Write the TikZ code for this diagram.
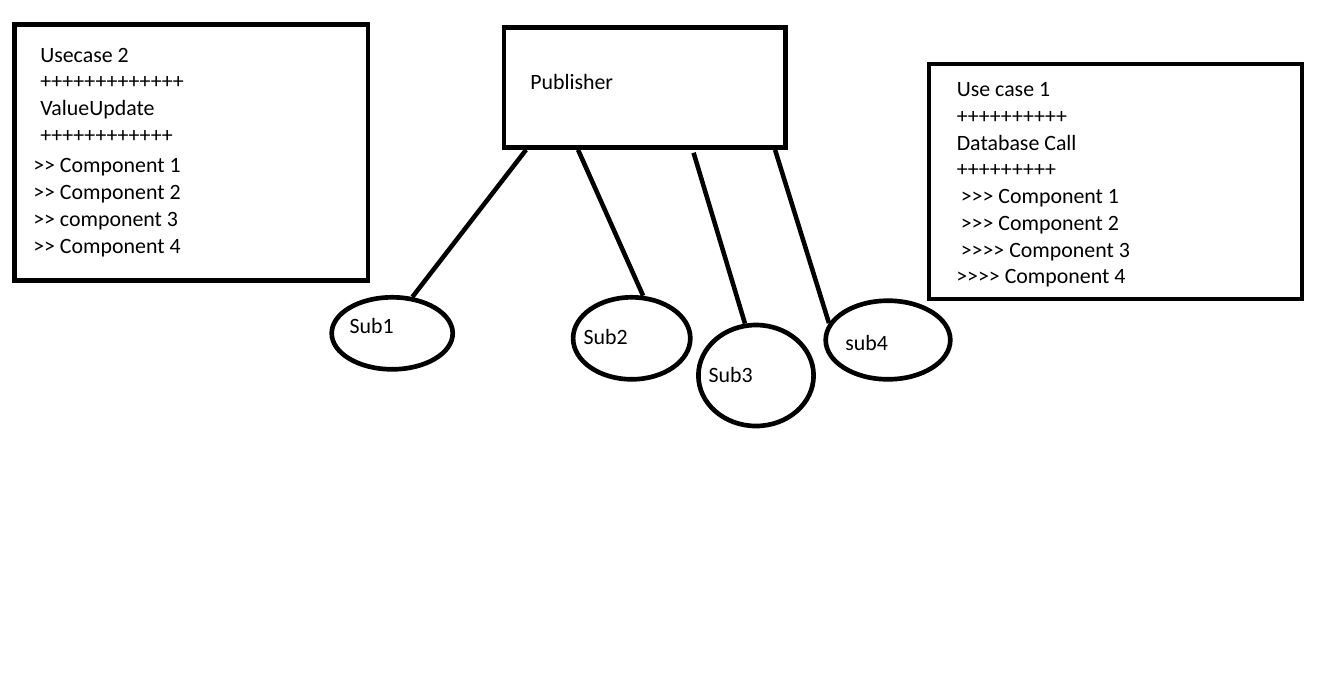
\documentclass[tikz,border=0pt]{standalone}
\usepackage{fontspec}
\setmainfont{Carlito}
\usetikzlibrary{shapes.geometric,calc}
\newcommand\gtmark{>\kern0pt }
\tikzset{
  boxshape/.style={draw, line width=3.5pt, rectangle, inner sep=0pt},
  subshape/.style={draw, line width=3.5pt, ellipse, inner sep=0pt},
  txt/.style={anchor=base west, inner sep=0pt, font=\fontsize{16.4pt}{19pt}\selectfont},
  link/.style={line width=3.4pt}
}
\begin{document}
\begin{tikzpicture}[x=0.75pt,y=-0.75pt]
\useasboundingbox (0,0) rectangle (1320,687);
% boxes
\node[boxshape, minimum width=353.5*0.75pt, minimum height=256*0.75pt] (uc2) at (191.25,152.5) {};
\node[boxshape, minimum width=281.7*0.75pt, minimum height=120*0.75pt] (pub) at (644.85,87.5) {};
\node[boxshape, minimum width=373*0.75pt, minimum height=235*0.75pt] (uc1) at (1115.5,181.5) {};
% subscribers
\node[subshape, minimum width=121*0.75pt, minimum height=72*0.75pt] (sub1) at (392.2,333.3) {};
\node[subshape, minimum width=117.2*0.75pt, minimum height=82*0.75pt] (sub2) at (631.7,338.3) {};
\node[subshape, minimum width=115.2*0.75pt, minimum height=101*0.75pt] (sub3) at (756,375.5) {};
\node[subshape, minimum width=124.6*0.75pt, minimum height=78.6*0.75pt] (sub4) at (888,340) {};
% texts left box
\node[txt] (l1) at (40,62) {Usecase 2};
\node[txt] (l2) at (40,88.5) {+++++++++++++};
\node[txt] (l3) at (40,115) {ValueUpdate};
\node[txt] (l4) at (40,142) {++++++++++++};
\node[txt] (l5) at (33,172.5) {\gtmark\gtmark\ Component 1};
\node[txt] (l6) at (33,199.5) {\gtmark\gtmark\ Component 2};
\node[txt] (l7) at (33,226) {\gtmark\gtmark\ component 3};
\node[txt] (l8) at (33,253) {\gtmark\gtmark\ Component 4};
% publisher text
\node[txt] (pubtxt) at (530,89) {Publisher};
% texts right box
\node[txt] (r1) at (956.5,96.5) {Use case 1};
\node[txt] (r2) at (956.5,123) {++++++++++};
\node[txt] (r3) at (956.5,150) {Database Call};
\node[txt] (r4) at (956.5,176.5) {+++++++++};
\node[txt] (r5) at (960.5,203.5) {\gtmark\gtmark\gtmark\ Component 1};
\node[txt] (r6) at (960.5,230) {\gtmark\gtmark\gtmark\ Component 2};
\node[txt] (r7) at (960.5,257) {\gtmark\gtmark\gtmark\gtmark\ Component 3};
\node[txt] (r8) at (956,283.5) {\gtmark\gtmark\gtmark\gtmark\ Component 4};
% subscriber texts
\node[txt] (s1) at (349.3,333.3) {Sub1};
\node[txt] (s2) at (583.3,344) {Sub2};
\node[txt] (s3) at (708.3,382.7) {Sub3};
\node[txt] (s4) at (845,350) {sub4};
% connectors
\draw[link] ($(pub.south west)+(24.4,0)$) -- (sub1.61);
\draw[link] ($(pub.south west)+(76.4,0)$) -- (sub2.75);
\draw[link] ($(pub.south west)+(191.9,2.9)$) -- (sub3.102);
\draw[link] ($(pub.south west)+(273.4,0)$) -- (sub4.164);
\end{tikzpicture}
\end{document}
